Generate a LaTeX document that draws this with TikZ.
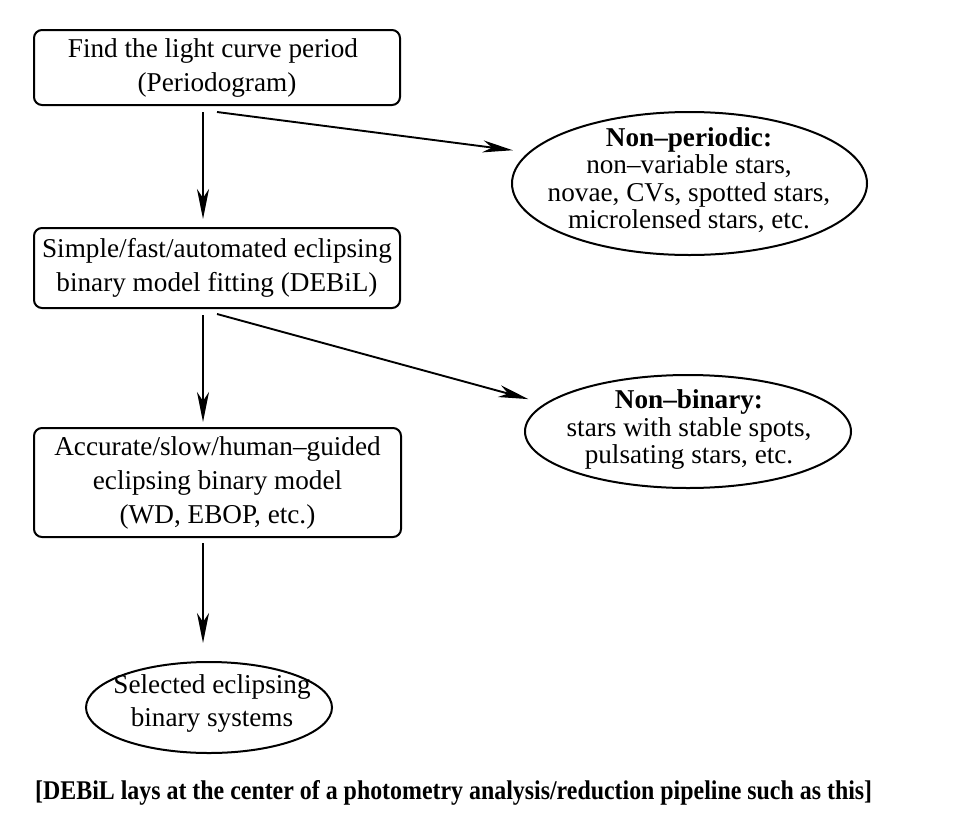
\documentclass[tikz,border=0pt]{standalone}
\usepackage{fontspec}
\setmainfont{Liberation Serif}
\usepackage{graphicx}
\usetikzlibrary{arrows.meta,shapes.geometric}
\tikzset{
  boxnode/.style={draw, line width=2pt, rounded corners=8pt, inner sep=0pt, outer sep=0pt, align=center,
    font=\fontsize{27.2}{34}\selectfont},
  ellnode/.style={draw, ellipse, line width=2pt, inner sep=0pt, outer sep=0pt},
  elltext/.style={align=center, inner sep=0pt, font=\fontsize{27.2}{27.5}\selectfont},
  arr/.style={line width=1.9pt, -{Stealth[length=30pt, width=12pt, inset=9pt]}}
}
\begin{document}
\begin{tikzpicture}[x={(1pt,0)}, y={(0,-1pt)}]
\fill[white] (0,0) rectangle (977,825);
\useasboundingbox (0,0) rectangle (977,825);

\node[boxnode, minimum width=366pt, minimum height=75pt] (b1) at (217,67.5)
  {\hspace*{-8pt}Find the light curve period\\(Periodogram)};
\node[boxnode, minimum width=366pt, minimum height=80pt] (b2) at (217,268)
  {Simple/fast/automated eclipsing\\binary model fitting (DEBiL)};
\node[boxnode, minimum width=367pt, minimum height=109pt] (b3) at (217.5,482.5)
  {Accurate/slow/human–guided\\eclipsing binary model\\(WD, EBOP, etc.)};

\node[ellnode, minimum width=355pt, minimum height=143pt] (e1) at (689.5,183.5) {};
\node[elltext] (t1) at (689,180)
  {\textbf{Non–periodic:}\\non–variable stars,\\novae, CVs, spotted stars,\\microlensed stars, etc.};
\node[ellnode, minimum width=326pt, minimum height=113pt] (e2) at (688,431.5) {};
\node[elltext] (t2) at (689,429.5)
  {\textbf{Non–binary:}\\stars with stable spots,\\pulsating stars, etc.};
\node[ellnode, minimum width=246pt, minimum height=91pt] (e3) at (209,707.5) {};
\node[elltext, font=\fontsize{27.2}{33}\selectfont] (t3) at (212,703.5)
  {Selected eclipsing\\binary systems};

\draw[arr] ([xshift=-14pt,yshift=-7pt]b1.south) -- ([xshift=-14pt,yshift=9pt]b2.north);
\draw[arr, shorten >=17pt] ([yshift=-7pt]b1.south) -- (e1.169);
\draw[arr] ([xshift=-14pt,yshift=-7pt]b2.south) -- ([xshift=-14.5pt,yshift=6pt]b3.north);
\draw[arr, shorten >=18pt] ([yshift=-6pt]b2.south) -- (e2.169.5);
\draw[arr] ([xshift=-14.5pt,yshift=-6pt]b3.south) -- ([xshift=-6pt,yshift=19pt]e3.north);

\node[anchor=base west, inner sep=0pt] (cap) at (35,799)
  {\resizebox{837pt}{\height}{\fontsize{27}{30}\selectfont\bfseries [DEBiL lays at the center of a photometry analysis/reduction pipeline such as this]}};
\end{tikzpicture}
\end{document}
